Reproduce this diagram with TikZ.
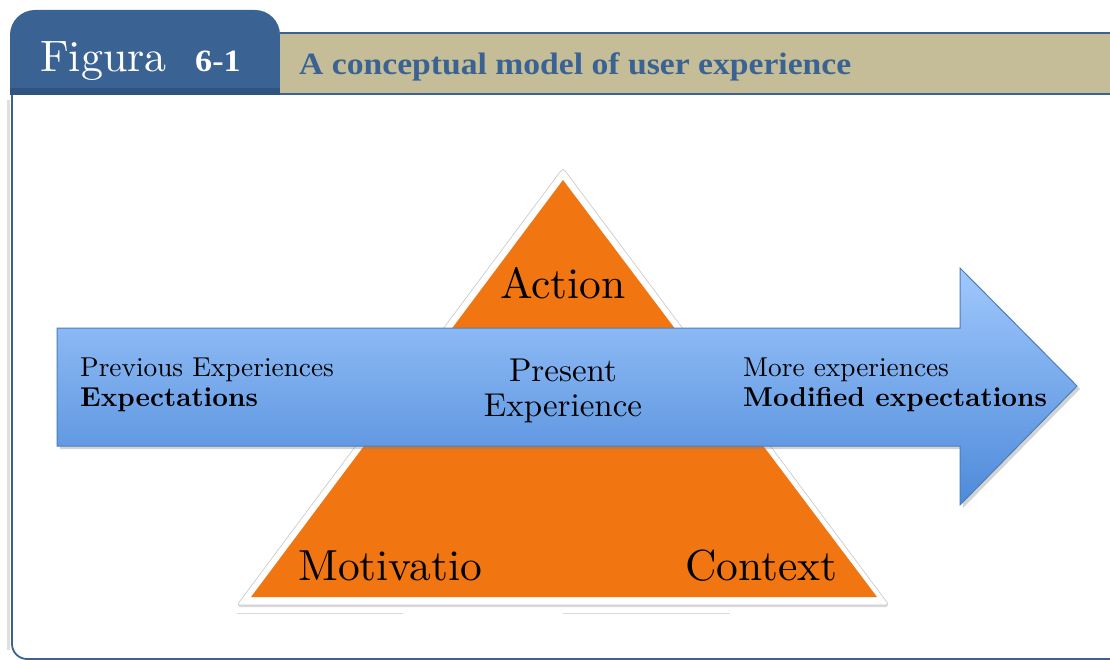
\documentclass[tikz,border=0pt]{standalone}
\usepackage{fontspec}
\setmainfont{lmroman10-regular.otf}[BoldFont=lmroman10-bold.otf]
\newfontfamily\capfont{Liberation Serif}
\usetikzlibrary{shadows}
\definecolor{frameblue}{RGB}{58,99,148}
\definecolor{bandblue}{RGB}{48,84,128}
\definecolor{beige}{RGB}{196,189,151}
\definecolor{orng}{RGB}{241,118,17}
\definecolor{arrtop}{RGB}{160,200,252}
\definecolor{arrbot}{RGB}{78,138,218}
\definecolor{arredge}{RGB}{74,126,187}
\tikzset{
  lbl/.style={inner sep=0pt, anchor=base west},
  ctr/.style={inner sep=0pt, anchor=base},
  arrtext/.style={font=\fontsize{27.3}{30}\selectfont},
  midtext/.style={font=\fontsize{33}{36}\selectfont},
  bigtext/.style={font=\fontsize{43.5}{48}\selectfont},
}
\begin{document}
\begin{tikzpicture}[x=1pt,y=-1pt]
\useasboundingbox (0,0) rectangle (1110,660);
% frame
\draw[gray!25, line width=3pt] (8,100) -- (8,650);
\draw[frameblue, line width=1.8pt, rounded corners=15pt] (12,90) -- (12,659) -- (1120,659);
% tab
\fill[frameblue, rounded corners=25pt] (10,10) rectangle (280,80);
\fill[frameblue] (10,50) rectangle (280,95);
\fill[bandblue] (10,88) rectangle (280,95);
% title bar
\fill[beige] (280,33) rectangle (1110,94);
\draw[frameblue, line width=1.5pt] (280,33) -- (1110,33);
\draw[frameblue, line width=1.5pt] (280,94) -- (1110,94);
\node[lbl, text=white, font=\fontsize{44}{48}\selectfont] (fig) at (40,72) {Figura};
\node[lbl, text=white, font=\capfont\bfseries\fontsize{31}{34}\selectfont] (num) at (195,72) {\scalebox{1.1}[1]{6-1}};
\node[lbl, text=frameblue, font=\capfont\bfseries\fontsize{31}{34}\selectfont] (title) at (299,75) {\scalebox{1.085}[1]{A conceptual model of user experience}};
% triangle
\filldraw[fill=white, draw=gray!45, line width=0.6pt, rounded corners=3pt,
  drop shadow={opacity=0.3, shadow xshift=0pt, shadow yshift=-2pt}]
  (563,168) -- (889,605) -- (237,605) -- cycle;
\fill[orng] (563,180) -- (877,597) -- (251,597) -- cycle;
\draw[gray!30, line width=1pt] (237,613) -- (403,613);
\draw[gray!30, line width=1pt] (563,613) -- (730,613);
% arrow
\path[top color=arrtop, bottom color=arrbot, draw=arredge, line width=1pt,
  drop shadow={opacity=0.35, shadow xshift=3pt, shadow yshift=-3pt}]
  (57,328) -- (960,328) -- (960,268) -- (1077,386) -- (960,505) -- (960,446) -- (57,446) -- cycle;
% texts
\node[lbl, arrtext] (prev) at (80,376) {Previous Experiences};
\node[lbl, arrtext] (expc) at (80,406) {\textbf{Expectations}};
\node[ctr, midtext] (pres) at (563,381) {Present};
\node[ctr, midtext] (pexp) at (563,416) {Experience};
\node[lbl, arrtext] (more) at (743,376) {More experiences};
\node[lbl, arrtext] (modi) at (743,406) {\textbf{Modified expectations}};
\node[ctr, bigtext] (act) at (563,298) {Action};
\node[lbl, bigtext] (mot) at (298,580) {Motivatio};
\node[lbl, bigtext] (ctx) at (685,580) {Context};
\end{tikzpicture}
\end{document}
